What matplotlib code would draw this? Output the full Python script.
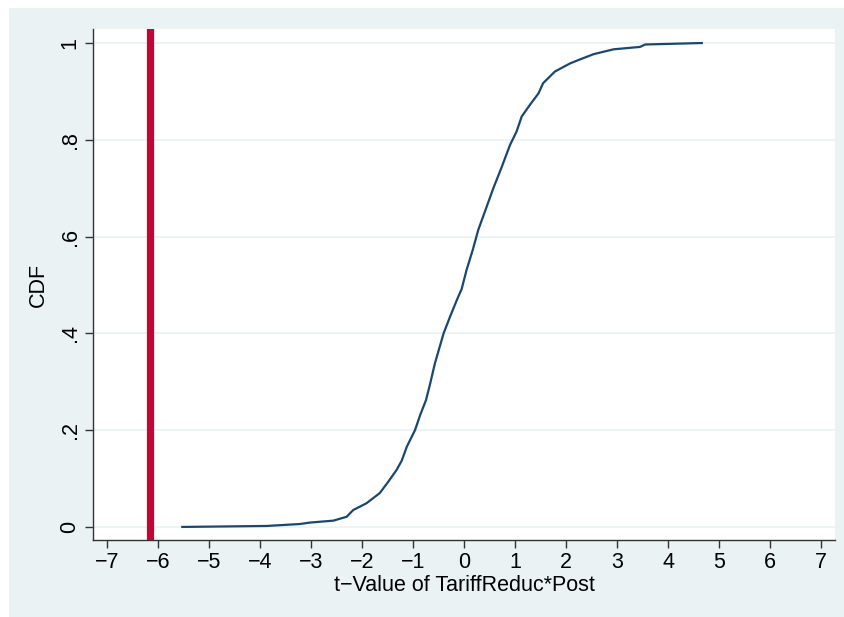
import matplotlib.pyplot as plt
from matplotlib.patches import Rectangle

t_values = [-5.52, -3.87, -3.22, -3.02, -2.56, -2.30, -2.17, -1.91, -1.65, -1.48,
            -1.32, -1.22, -1.12, -0.96, -0.86, -0.745, -0.67, -0.57, -0.40, -0.275,
            -0.14, -0.045, 0.05, 0.17, 0.28, 0.445, 0.575, 0.74, 0.90, 1.03,
            1.13, 1.29, 1.46, 1.55, 1.78, 2.08, 2.27, 2.54, 2.93, 3.45,
            3.55, 4.66]
cdf = [0.0, 0.002, 0.006, 0.009, 0.013, 0.021, 0.035, 0.049, 0.070, 0.094,
       0.118, 0.137, 0.166, 0.200, 0.231, 0.262, 0.293, 0.338, 0.400, 0.434,
       0.469, 0.492, 0.531, 0.572, 0.614, 0.662, 0.700, 0.744, 0.789, 0.817,
       0.848, 0.872, 0.896, 0.917, 0.941, 0.958, 0.966, 0.977, 0.987, 0.992,
       0.997, 1.0]
actual_t = -6.15

x_ticks = list(range(-7, 8))
x_labels = [str(v).replace('-', '\u2212') for v in x_ticks]
y_ticks = [0, 0.2, 0.4, 0.6, 0.8, 1.0]
y_labels = ['0', '.2', '.4', '.6', '.8', '1']

BG = '#eaf2f3'
NAVY = '#1a476f'
RED = '#c10534'

plt.rcParams['font.family'] = ['Liberation Sans', 'DejaVu Sans']

fig = plt.figure(figsize=(8.44, 6.17), dpi=100)
fig.patches.append(Rectangle((9 / 844, 0), 1, 1 - 8 / 617, transform=fig.transFigure,
                             facecolor=BG, edgecolor='none', zorder=-10))
ax = fig.add_axes([93 / 844, 1 - 540 / 617, 742 / 844, 511 / 617])
ax.set_facecolor('white')

ax.plot(t_values, cdf, color=NAVY, lw=1.6, zorder=3)
ax.axvline(actual_t, color=RED, lw=5.2, zorder=4)

ax.set_xlim(-7.27, 7.27)
ax.set_ylim(-0.027, 1.029)
ax.set_xticks(x_ticks)
ax.set_xticklabels(x_labels)
ax.set_yticks(y_ticks)
ax.set_yticklabels(y_labels, rotation=90, va='center')
ax.grid(axis='y', color=BG, lw=1.2)
ax.set_axisbelow(True)

for s in ('top', 'right'):
    ax.spines[s].set_visible(False)
for s in ('left', 'bottom'):
    ax.spines[s].set_color('#333333')
    ax.spines[s].set_linewidth(1.0)
ax.tick_params(direction='out', length=6, width=1, color='#333333',
               labelsize=15.5, pad=3)

ax.set_xlabel('t\u2212Value of TariffReduc*Post', fontsize=15.5, labelpad=1)
ax.set_ylabel('CDF', fontsize=15.5, labelpad=8)

fig.savefig('out.png', dpi=100, facecolor='white')
